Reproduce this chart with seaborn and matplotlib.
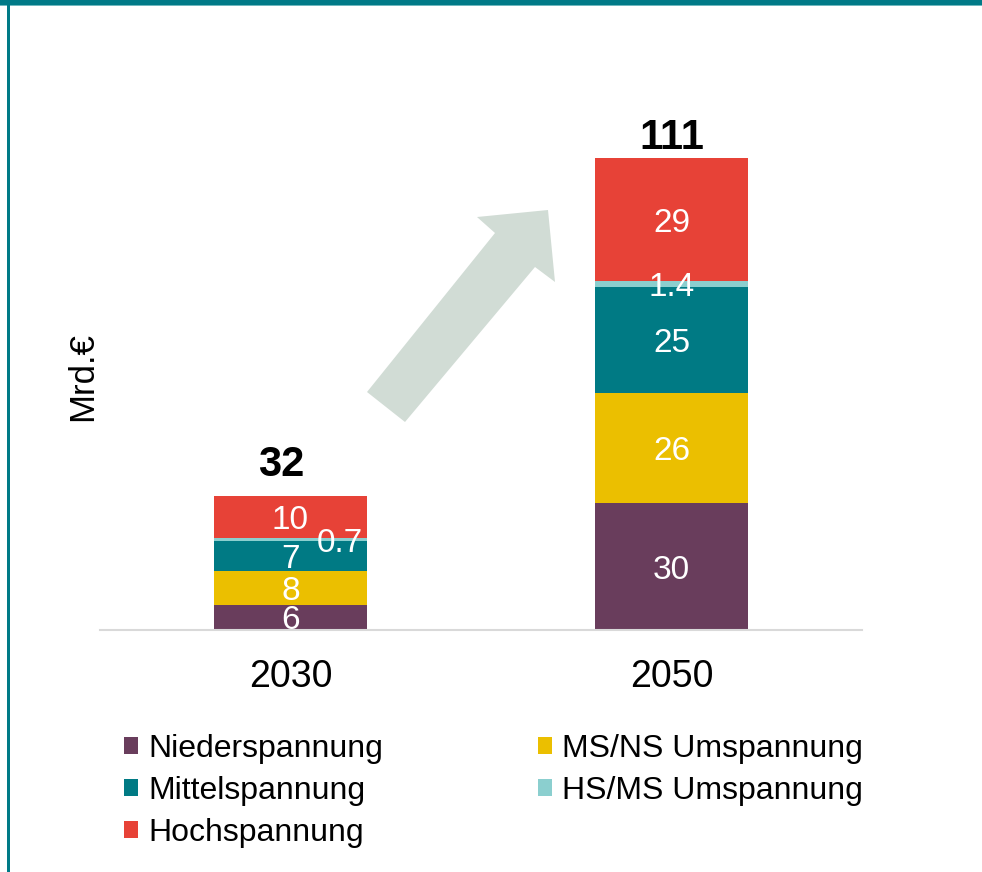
import numpy as np
import pandas as pd
import matplotlib
matplotlib.use("Agg")
import matplotlib.pyplot as plt
from matplotlib.patches import Patch, Polygon, Rectangle
import seaborn as sns

# ---------------- data ----------------
years = ["2030", "2050"]
layers = ["Niederspannung", "MS/NS Umspannung", "Mittelspannung", "HS/MS Umspannung", "Hochspannung"]
niederspannung = [6, 30]
ms_ns_umspannung = [8, 26]
mittelspannung = [7, 25]
hs_ms_umspannung = [0.7, 1.4]
hochspannung = [10, 29]
totals = [32, 111]
value_labels = {
    "Niederspannung": ["6", "30"],
    "MS/NS Umspannung": ["8", "26"],
    "Mittelspannung": ["7", "25"],
    "HS/MS Umspannung": ["0.7", "1.4"],
    "Hochspannung": ["10", "29"],
}
legend_order = ["Niederspannung", "Mittelspannung", "Hochspannung", "MS/NS Umspannung", "HS/MS Umspannung"]
colors = {
    "Niederspannung": "#693D5C",
    "MS/NS Umspannung": "#EBBF00",
    "Mittelspannung": "#007A84",
    "HS/MS Umspannung": "#8BCFCF",
    "Hochspannung": "#E74237",
}

values = {
    "Niederspannung": niederspannung,
    "MS/NS Umspannung": ms_ns_umspannung,
    "Mittelspannung": mittelspannung,
    "HS/MS Umspannung": hs_ms_umspannung,
    "Hochspannung": hochspannung,
}
df = pd.DataFrame(values, index=years)
cum = df.cumsum(axis=1)
bottoms = cum - df

sns.set_theme(style="white")
plt.rcParams["font.family"] = ["Liberation Sans", "DejaVu Sans"]
plt.rcParams["text.color"] = "black"

W, H = 982, 872
fig = plt.figure(figsize=(W / 100, H / 100), dpi=100)
fig.patch.set_facecolor("white")

def fx(px):
    return px / W

def fy(py):
    return 1 - py / H

ax = fig.add_axes([fx(100), fy(630), fx(862) - fx(100), (630 - 122) / H])
ax.set_facecolor("none")

# stacked bars: draw cumulative heights from top layer down
for layer in reversed(layers):
    sns.barplot(x=years, y=cum[layer].values, color=colors[layer], width=0.403,
                saturation=1, linewidth=0, ax=ax, order=years)

ax.set_xlim(-0.5, 1.5)
ax.set_ylim(0, 120)
for s in ["top", "right", "left"]:
    ax.spines[s].set_visible(False)
ax.spines["bottom"].set_color("#D9D9D9")
ax.spines["bottom"].set_linewidth(1.5)
ax.set_yticks([])
ax.tick_params(axis="x", length=0, pad=21, labelsize=27, labelcolor="black")
ax.set_xlabel("")
ax.set_ylabel("")

# segment labels
x_off = {"HS/MS Umspannung": [0.13, 0.0]}
for layer in layers:
    for i, yr in enumerate(years):
        yc = bottoms.loc[yr, layer] + df.loc[yr, layer] / 2
        dx = x_off.get(layer, [0, 0])[i]
        ax.text(i + dx, yc, value_labels[layer][i], ha="center", va="center_baseline",
                color="white", fontsize=24)

# totals
tot_off = [(-7, 7.5), (0, 0.5)]
for i, t in enumerate(totals):
    ax.annotate(str(t), xy=(i, cum.loc[years[i]].iloc[-1]), xytext=tot_off[i],
                textcoords="offset points", ha="center", va="bottom",
                fontsize=30, fontweight="bold", color="black")

# y label
fig.text(fx(83), fy(377), "Mrd.€", rotation=90, ha="center", va="center", fontsize=25, color="black")

# arrow decoration
arrow_px = [(367, 392), (495, 233), (477, 217), (548, 210), (555, 282), (535, 267), (405, 422)]
arrow = Polygon([(fx(x), fy(y)) for x, y in arrow_px], closed=True, transform=fig.transFigure,
                facecolor="#D1DCD5", edgecolor="none", zorder=0)
fig.patches.append(arrow)

# frame decorations
fig.patches.append(Rectangle((0, fy(5)), 1, 5 / H, transform=fig.transFigure,
                             facecolor="#007A87", edgecolor="none"))
fig.patches.append(Rectangle((0, fy(6)), 1, 1.2 / H, transform=fig.transFigure,
                             facecolor="#6FB8BE", edgecolor="none"))
fig.patches.append(Rectangle((fx(7), 0), 3 / W, fy(5), transform=fig.transFigure,
                             facecolor="#007A87", edgecolor="none"))

# legends
def make_handles(names):
    return [Patch(facecolor=colors[n], edgecolor="none", label=n) for n in names]

leg_kw = dict(frameon=False, fontsize=23, handlelength=0.44, handleheight=0.44,
              handletextpad=0.31, labelspacing=0.37, borderpad=0, borderaxespad=0,
              loc="upper left", bbox_transform=fig.transFigure, labelcolor="black")
leg1 = fig.legend(handles=make_handles(legend_order[:3]), bbox_to_anchor=(fx(124), fy(734)), **leg_kw)
leg2 = fig.legend(handles=make_handles(legend_order[3:]), bbox_to_anchor=(fx(538), fy(734)), **leg_kw)

fig.savefig("out.png", dpi=100, facecolor="white")
